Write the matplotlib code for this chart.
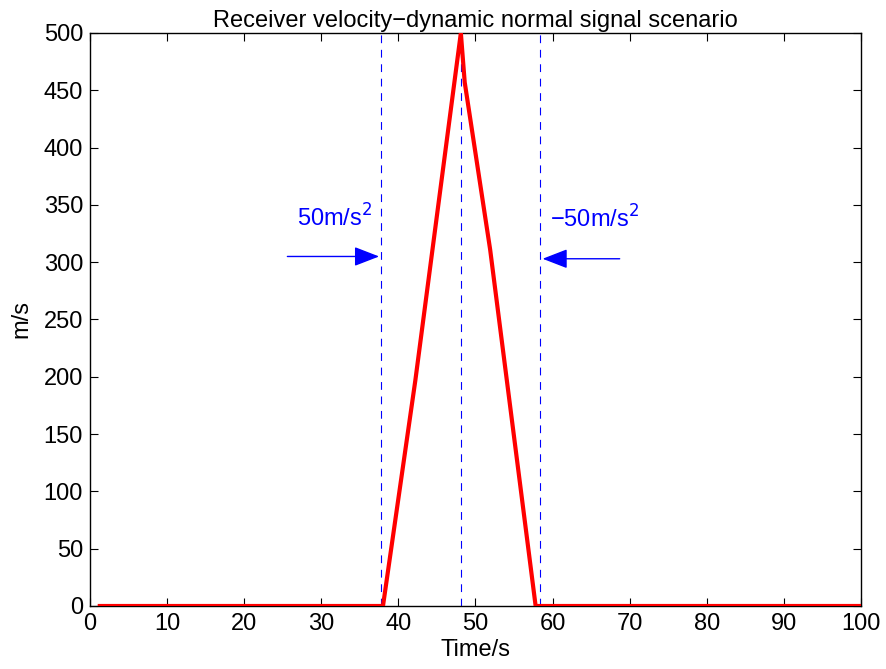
import matplotlib
matplotlib.use("Agg")
import matplotlib.pyplot as plt

plt.rcParams['font.family'] = ['Liberation Sans', 'DejaVu Sans']

# Data
time_s = [1, 38, 42.2, 48.1, 48.6, 51.9, 57.8, 100]
velocity = [0, 0, 197, 500, 457, 311, 0, 0]
marker_times = [37.8, 48.1, 58.4]
accel_labels = ['50m/s$^2$', '\u221250m/s$^2$']

fig = plt.figure(figsize=(8.87, 6.69), dpi=100)
ax = fig.add_axes([90/887, 1-606/669, (861-90)/887, (606-33)/669])

for t in marker_times:
    ax.axvline(t, color='blue', linestyle=(0, (7, 6)), linewidth=0.8)

ax.plot(time_s, velocity, color='red', linewidth=3, solid_capstyle='butt', zorder=3)

arrow_style = '-|>,head_width=0.24,head_length=0.62'
ax.annotate('', xy=(37.5, 305), xytext=(25.6, 305),
            arrowprops=dict(arrowstyle=arrow_style, color='blue', lw=1,
                            mutation_scale=25, shrinkA=0, shrinkB=0))
ax.annotate('', xy=(58.7, 303), xytext=(68.7, 303),
            arrowprops=dict(arrowstyle=arrow_style, color='blue', lw=1,
                            mutation_scale=25, shrinkA=0, shrinkB=0))
ax.text(26.9, 331, accel_labels[0], color='blue', fontsize=17, va='baseline', ha='left')
ax.text(59.6, 330, accel_labels[1], color='blue', fontsize=17, va='baseline', ha='left')

ax.set_xlim(0, 100)
ax.set_ylim(0, 500)
ax.set_xticks(range(0, 101, 10))
ax.set_yticks(range(0, 501, 50))
ax.tick_params(direction='in', top=True, right=True, labelsize=17, length=6, width=0.8, pad=5)
for s in ax.spines.values():
    s.set_linewidth(1)
ax.set_xlabel('Time/s', fontsize=17, labelpad=3)
ax.set_ylabel('m/s', fontsize=17, labelpad=8)
ax.set_title('Receiver velocity\u2212dynamic normal signal scenario', fontsize=17, pad=4)

fig.savefig('out.png', dpi=100)
